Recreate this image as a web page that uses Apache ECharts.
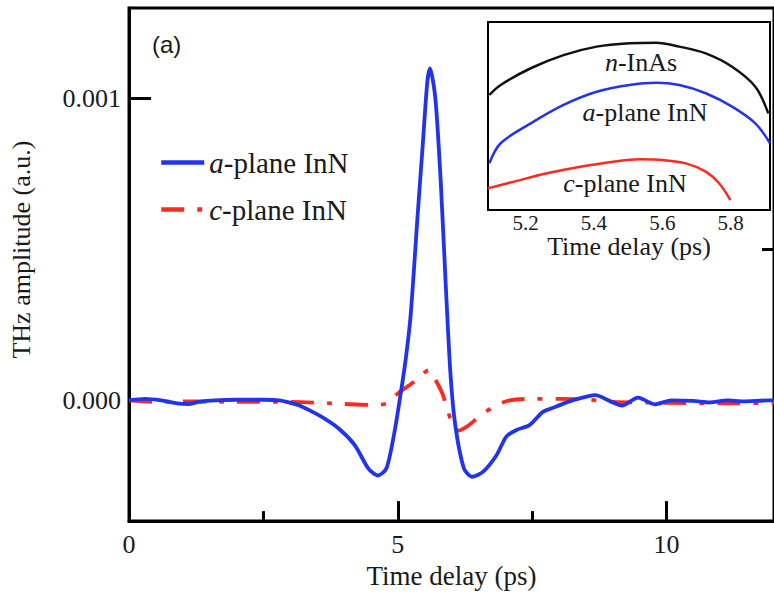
<!DOCTYPE html>
<html>
<head>
<meta charset="utf-8">
<script src="https://cdn.jsdelivr.net/npm/echarts@6/dist/echarts.min.js"></script>
<style>html,body{margin:0;padding:0;background:#fff}#c{width:774px;height:594px}</style>
</head>
<body>
<div id="c"></div>
<script>
// ---- Data ----
const seriesNames = ['a-plane InN', 'c-plane InN'];
// main panel: [time delay (ps), THz amplitude (a.u.)]
const aPlane = [[0,0],[0.3,0.000005],[0.6,0],[0.9,-0.00001],[1.1,-0.000012],[1.3,-0.000005],[1.6,0],[2.0,0.000002],[2.5,0.000002],[2.8,0],[3.0,-0.000008],[3.16,-0.000016],[3.53,-0.000049],[3.9,-0.000093],[4.2,-0.000148],[4.45,-0.000225],[4.63,-0.000249],[4.79,-0.000225],[4.94,-0.000104],[5.06,0.000029],[5.15,0.000139],[5.24,0.000282],[5.37,0.000614],[5.46,0.000834],[5.55,0.001055],[5.6,0.0011],[5.7,0.001],[5.8,0.000724],[5.89,0.000393],[5.98,0.00009],[6.07,-0.000082],[6.23,-0.000225],[6.38,-0.000253],[6.59,-0.000236],[6.84,-0.000181],[7.02,-0.00012],[7.21,-0.000098],[7.45,-0.000082],[7.7,-0.000038],[7.94,-0.000021],[8.25,0],[8.68,0.0000175],[8.92,0],[9.17,-0.0000176],[9.47,0.000009],[9.78,-0.000013],[10.09,0],[10.5,-0.000002],[10.8,-0.000007],[11.13,0],[11.43,-0.000003],[11.9,0],[12,0]];
const cPlane = [[0,0],[0.5,-0.000005],[1,-0.000003],[2,-0.000005],[3,-0.000005],[4,-0.000012],[4.5,-0.000015],[4.8,-0.00001],[5.0,0.000023],[5.31,0.000062],[5.58,0.0001],[5.67,0.000078],[5.83,0.000023],[5.98,-0.00006],[6.13,-0.0001],[6.3,-0.000085],[6.44,-0.000065],[6.78,-0.000021],[7.08,0],[7.5,0.000005],[8,0.000005],[8.5,0.000003],[9,-0.000005],[10,-0.000008],[11,-0.00001],[12,-0.000008]];
// inset: [time delay (ps), relative amplitude]
const insetInAs = [[5.094,61.2],[5.127,66.5],[5.215,75.4],[5.311,82.4],[5.408,86.9],[5.504,88.7],[5.582,89],[5.65,86.9],[5.727,83.3],[5.804,76.2],[5.872,65.6],[5.91,51.4]];
const insetA = [[5.094,24.8],[5.127,35.5],[5.215,46.1],[5.311,55.9],[5.408,62.9],[5.504,66.5],[5.582,67.7],[5.65,66.5],[5.727,62.1],[5.804,55],[5.872,46.1],[5.915,35.5]];
const insetC = [[5.089,11.5],[5.166,15.1],[5.263,19.5],[5.36,23],[5.456,25.7],[5.534,27],[5.601,26.6],[5.669,24.8],[5.727,20.4],[5.766,14.2],[5.799,5.3]];
const yLabelValues = [0, 0.001];
const yMinorValues = [0.0005];
const insetXLabels = [5.2, 5.4, 5.6, 5.8];
const insetXTicks = [5.1, 5.2, 5.3, 5.4, 5.5, 5.6, 5.7, 5.8, 5.9];
const insetYTicks = [6.2, 10.6, 15.1, 18.6, 22.2, 24.8, 27.5, 33.7, 39, 45.2, 47.9, 51.4, 54.1, 57.6, 61.2, 70.9, 77.1, 83.3, 87.8, 90.4, 93.1, 95.7, 98.4];

const SERIF = 'Liberation Serif, Times New Roman, serif';
const BLUE = '#2233ee', RED = '#ff2a1f', TXT = '#1a1a1a';
const richI = { i: { fontStyle: 'italic', fontFamily: SERIF, fontSize: 29, color: TXT } };
const richI2 = { i: { fontStyle: 'italic', fontFamily: SERIF, fontSize: 26, color: TXT } };

const chart = echarts.init(document.getElementById('c'), null, { renderer: 'svg' });
chart.setOption({
  animation: false,
  backgroundColor: '#fff',
  grid: [
    { left: 128, top: 8, right: -8, bottom: 70, show: true, borderColor: '#000', borderWidth: 3, backgroundColor: 'transparent' },
    { left: 488, top: 22, width: 282, height: 188, show: true, borderColor: '#000', borderWidth: 2, backgroundColor: '#fff', z: 5 }
  ],
  legend: {
    data: seriesNames,
    orient: 'vertical', left: 154, top: 143, itemWidth: 43, itemHeight: 14, itemGap: 18,
    itemStyle: { color: 'rgba(0,0,0,0)', borderWidth: 0, opacity: 0 },
    lineStyle: { width: 4.5 },
    textStyle: { fontFamily: SERIF, fontSize: 29, color: TXT, rich: richI },
    formatter: n => '{i|' + n.charAt(0) + '}' + n.slice(1)
  },
  xAxis: [
    { gridIndex: 0, type: 'value', min: 0, max: 12, interval: 5,
      name: 'Time delay (ps)', nameLocation: 'middle', nameGap: 39,
      nameTextStyle: { fontFamily: SERIF, fontSize: 27, color: TXT },
      axisLine: { onZero: false, lineStyle: { color: '#000', width: 3 } },
      axisTick: { inside: true, length: 20, lineStyle: { color: '#000', width: 3 } },
      minorTick: { show: true, splitNumber: 2, length: 10, lineStyle: { color: '#000', width: 3 } },
      axisLabel: { fontFamily: SERIF, fontSize: 26, color: TXT, margin: 10, showMaxLabel: false },
      splitLine: { show: false }, minorSplitLine: { show: false } },
    { gridIndex: 1, type: 'value', min: 5.09, max: 5.915,
      name: 'Time delay (ps)', nameLocation: 'middle', nameGap: 19,
      nameTextStyle: { fontFamily: SERIF, fontSize: 26, color: TXT },
      axisLine: { onZero: false, lineStyle: { color: '#000', width: 2 } },
      axisTick: { inside: true, length: 6, customValues: insetXTicks, lineStyle: { color: '#000', width: 1.5 } },
      axisLabel: { customValues: insetXLabels, fontFamily: SERIF, fontSize: 21, color: TXT, margin: 2 },
      splitLine: { show: false } }
  ],
  yAxis: [
    { gridIndex: 0, type: 'value', min: -0.0004, max: 0.0013,
      name: 'THz amplitude (a.u.)', nameLocation: 'middle', nameGap: 95,
      nameTextStyle: { fontFamily: SERIF, fontSize: 26, color: TXT, padding: [0, 0, 0, 30] },
      axisLine: { show: true, onZero: false, lineStyle: { color: '#000', width: 3 } },
      axisTick: { inside: true, length: 22, customValues: yLabelValues, lineStyle: { color: '#000', width: 3 } },
      axisLabel: { customValues: yLabelValues, formatter: v => v.toFixed(3), fontFamily: SERIF, fontSize: 26, color: TXT, margin: 8 },
      splitLine: { show: false } },
    { gridIndex: 0, type: 'value', min: -0.0004, max: 0.0013,
      axisLine: { show: false, onZero: false },
      axisTick: { inside: true, length: 12, customValues: yMinorValues, lineStyle: { color: '#000', width: 3 } },
      axisLabel: { show: false }, splitLine: { show: false } },
    { gridIndex: 1, type: 'value', min: 0, max: 100,
      axisLine: { show: true, onZero: false, lineStyle: { color: '#000', width: 2 } },
      axisTick: { inside: true, length: 5, customValues: insetYTicks, lineStyle: { color: '#000', width: 1.5 } },
      axisLabel: { show: false }, splitLine: { show: false } }
  ],
  series: [
    { name: seriesNames[0], type: 'line', xAxisIndex: 0, yAxisIndex: 0, data: aPlane, showSymbol: false, symbol: 'none', smooth: 0.25,
      lineStyle: { color: BLUE, width: 3.8 }, itemStyle: { color: BLUE }, z: 3 },
    { name: seriesNames[1], type: 'line', xAxisIndex: 0, yAxisIndex: 0, data: cPlane, showSymbol: false, symbol: 'none', smooth: 0.25,
      lineStyle: { color: RED, width: 3.8, type: [23, 13, 5, 13] }, itemStyle: { color: RED }, z: 2 },
    { name: 'n-InAs inset', type: 'line', xAxisIndex: 1, yAxisIndex: 2, data: insetInAs, symbol: 'none', smooth: 0.35,
      lineStyle: { color: '#111', width: 2.5 }, z: 6 },
    { name: 'a-plane inset', type: 'line', xAxisIndex: 1, yAxisIndex: 2, data: insetA, symbol: 'none', smooth: 0.35,
      lineStyle: { color: BLUE, width: 2.5 }, z: 6 },
    { name: 'c-plane inset', type: 'line', xAxisIndex: 1, yAxisIndex: 2, data: insetC, symbol: 'none', smooth: 0.35,
      lineStyle: { color: RED, width: 2.5 }, z: 6 }
  ],
  graphic: [
    { type: 'text', left: 152, top: 32, z: 10, style: { text: '(a)', fontFamily: 'Liberation Sans, Arial, sans-serif', fontSize: 24, fill: TXT } },
    { type: 'text', x: 641, y: 62, z: 10, style: { text: '{i|n}-InAs', rich: richI2, fontFamily: SERIF, fontSize: 26, fill: TXT, align: 'center', verticalAlign: 'middle' } },
    { type: 'text', x: 645, y: 112, z: 10, style: { text: '{i|a}-plane InN', rich: richI2, fontFamily: SERIF, fontSize: 26, fill: TXT, align: 'center', verticalAlign: 'middle' } },
    { type: 'text', x: 625, y: 183, z: 10, style: { text: '{i|c}-plane InN', rich: richI2, fontFamily: SERIF, fontSize: 26, fill: TXT, align: 'center', verticalAlign: 'middle' } }
  ]
});
</script>
</body>
</html>
